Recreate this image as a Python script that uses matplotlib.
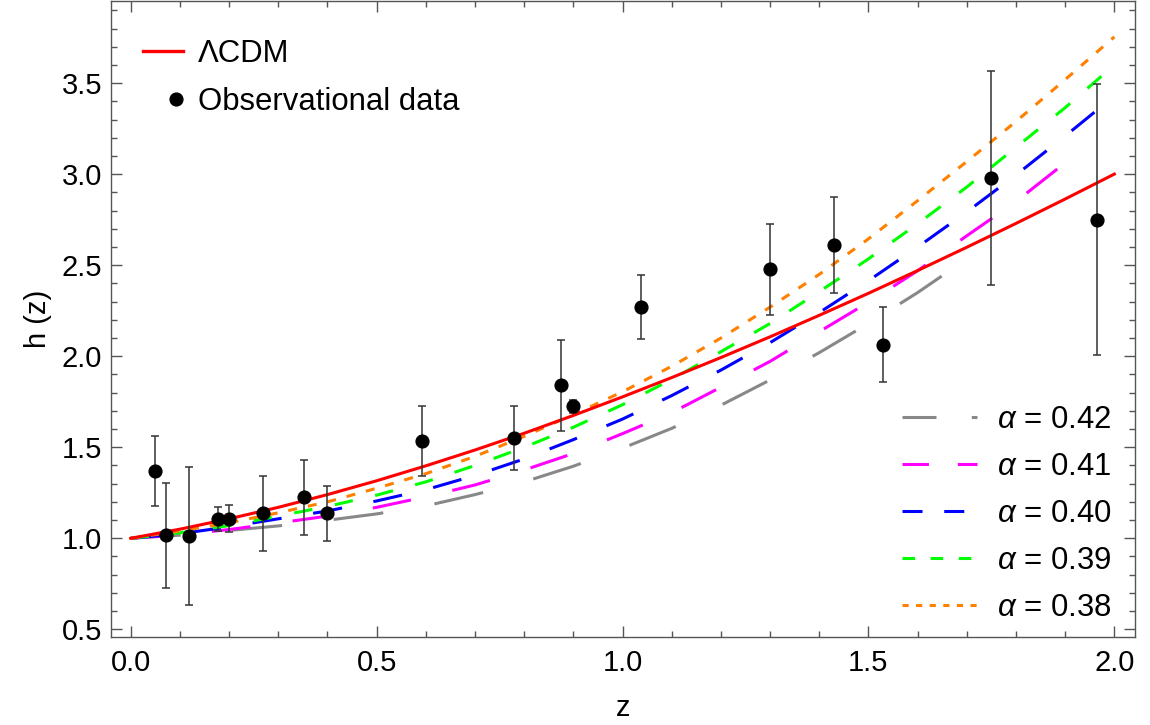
import numpy as np
import matplotlib
matplotlib.use("Agg")
import matplotlib.pyplot as plt
from matplotlib.lines import Line2D
from matplotlib.legend_handler import HandlerLine2D

plt.rcParams['font.family'] = ['Liberation Sans', 'DejaVu Sans']
plt.rcParams['mathtext.fontset'] = 'custom'
plt.rcParams['mathtext.rm'] = 'Liberation Sans'
plt.rcParams['mathtext.it'] = 'Liberation Sans:italic'
plt.rcParams['lines.scale_dashes'] = False

# observational data
z_obs = [0.049, 0.071, 0.119, 0.178, 0.199, 0.268, 0.352, 0.40, 0.592, 0.78,
         0.874, 0.90, 1.037, 1.30, 1.43, 1.53, 1.749, 1.965]
h_obs = [1.37, 1.016, 1.011, 1.108, 1.108, 1.137, 1.225, 1.137, 1.535, 1.549,
         1.842, 1.725, 2.271, 2.478, 2.611, 2.064, 2.98, 2.75]
h_err = [0.19, 0.288, 0.379, 0.066, 0.074, 0.205, 0.206, 0.15, 0.193, 0.176,
         0.25, 0.037, 0.176, 0.25, 0.264, 0.206, 0.589, 0.744]

# model curves sampled from the figure
z_grid = [0.0, 0.1, 0.2, 0.3, 0.4, 0.5, 0.6, 0.7, 0.8, 0.9, 1.0,
          1.1, 1.2, 1.3, 1.4, 1.5, 1.6, 1.7, 1.8, 1.9, 2.0]
h_lcdm = [1.0, 1.050, 1.107, 1.170, 1.240, 1.316, 1.398, 1.485, 1.577, 1.675, 1.777,
          1.883, 1.993, 2.107, 2.225, 2.346, 2.471, 2.599, 2.730, 2.864, 3.001]
h_038 = [1.0, 1.04, 1.085, 1.14, 1.20, 1.275, 1.355, 1.45, 1.56, 1.68, 1.805,
         1.945, 2.10, 2.27, 2.45, 2.645, 2.855, 3.07, 3.29, 3.52, 3.755]
h_039 = [1.0, 1.03, 1.07, 1.122, 1.175, 1.237, 1.31, 1.40, 1.50, 1.61, 1.734,
         1.873, 2.025, 2.18, 2.355, 2.535, 2.728, 2.93, 3.148, 3.366, 3.60]
h_040 = [1.0, 1.025, 1.063, 1.107, 1.15, 1.205, 1.267, 1.345, 1.436, 1.542, 1.655,
         1.784, 1.924, 2.075, 2.24, 2.415, 2.60, 2.793, 2.996, 3.21, 3.43]
z_041 = [0.0, 0.1, 0.2, 0.3, 0.4, 0.5, 0.6, 0.7, 0.8, 0.9, 1.0,
         1.1, 1.2, 1.3, 1.4, 1.5, 1.6, 1.7, 1.8, 1.9, 1.93]
h_041 = [1.0, 1.02, 1.048, 1.084, 1.122, 1.17, 1.228, 1.293, 1.375, 1.466, 1.575,
         1.69, 1.83, 1.972, 2.135, 2.297, 2.47, 2.662, 2.85, 3.063, 3.13]
z_042 = [0.0, 0.1, 0.2, 0.3, 0.4, 0.5, 0.6, 0.7, 0.8, 0.9, 1.0,
         1.1, 1.2, 1.3, 1.4, 1.5, 1.6, 1.7]
h_042 = [1.0, 1.017, 1.043, 1.068, 1.099, 1.134, 1.178, 1.24, 1.31, 1.396, 1.495,
         1.604, 1.731, 1.87, 2.02, 2.18, 2.35, 2.535]

alpha_labels = ['0.42', '0.41', '0.40', '0.39', '0.38']
colors = ['#888888', '#ff00ff', '#0000ff', '#00ff00', '#ff8000']
dashes = [(36, 37.4), (28, 30.6), (21.2, 23), (13.3, 16.5), (6.5, 7.9)]
curves = [(z_042, h_042), (z_041, h_041), (z_grid, h_040), (z_grid, h_039), (z_grid, h_038)]


class RightMarker(HandlerLine2D):
    # single legend marker sits toward the right end of the handle
    def get_xdata(self, legend, xdescent, ydescent, width, height, fontsize):
        xdata = [-xdescent + 0.64 * width, -xdescent + width]
        return xdata, [-xdescent + 0.82 * width]


fig = plt.figure(figsize=(11.5, 7.25), dpi=100)
ax = fig.add_axes([110.7 / 1150, 88.3 / 725, 1024.3 / 1150, 635.7 / 725])

for (zz, hh), c, d in zip(curves, colors, dashes):
    ax.plot(zz, hh, color=c, lw=2.2, dashes=d, dash_capstyle='butt', zorder=2)
ax.plot(z_grid, h_lcdm, color='#ff0000', lw=2.2, zorder=3)

ax.errorbar(z_obs, h_obs, yerr=h_err, fmt='o', color='black', ms=9.2,
            ecolor='#333333', elinewidth=1.1, capsize=3, capthick=1.1, zorder=4)

ax.set_xlim(-0.0407, 2.042)
ax.set_ylim(0.4593, 3.952)
ax.set_xticks(np.arange(0, 2.01, 0.5))
ax.set_xticks(np.arange(0, 2.05, 0.1), minor=True)
ax.set_yticks(np.arange(0.5, 3.6, 0.5))
ax.set_yticks(np.arange(0.5, 3.95, 0.1), minor=True)
ax.xaxis.set_major_formatter(plt.FormatStrFormatter('%.1f'))
ax.yaxis.set_major_formatter(plt.FormatStrFormatter('%.1f'))
ax.tick_params(which='both', direction='in', top=True, right=True,
               color='#555555', labelsize=21)
ax.tick_params(which='major', length=7.7, width=1)
ax.tick_params(which='minor', length=4.3, width=1)
ax.tick_params(axis='x', pad=9)
ax.tick_params(axis='y', pad=6)
for s in ax.spines.values():
    s.set_color('#555555')
    s.set_linewidth(1)

ax.set_xlabel('z', fontsize=21, labelpad=12)
ax.set_ylabel('h (z)', fontsize=21, labelpad=7)

marker_handle = Line2D([], [], color='black', marker='o', ms=9.2, ls='none')
h1 = [Line2D([], [], color='#ff0000', lw=2.4), marker_handle]
leg1 = ax.legend(h1, ['ΛCDM', 'Observational data'], loc='upper left',
                 bbox_to_anchor=(0.0315, 0.940), frameon=False, fontsize=22.4,
                 borderpad=0, borderaxespad=0, handlelength=1.29,
                 handletextpad=0.48, labelspacing=0.585,
                 handler_map={marker_handle: RightMarker()})
ax.add_artist(leg1)

h2 = [Line2D([], [], color=c, lw=2.2, dashes=(d[0] * 0.68, d[1] * 0.68),
             dash_capstyle='butt') for c, d in zip(colors, dashes)]
ax.legend(h2, [r'$\alpha$ = ' + a for a in alpha_labels], loc='upper left',
          bbox_to_anchor=(0.7725, 0.364), frameon=False, fontsize=22.4,
          borderpad=0, borderaxespad=0, handlelength=2.41,
          handletextpad=0.64, labelspacing=0.545)

fig.savefig('out.png', dpi=100)
